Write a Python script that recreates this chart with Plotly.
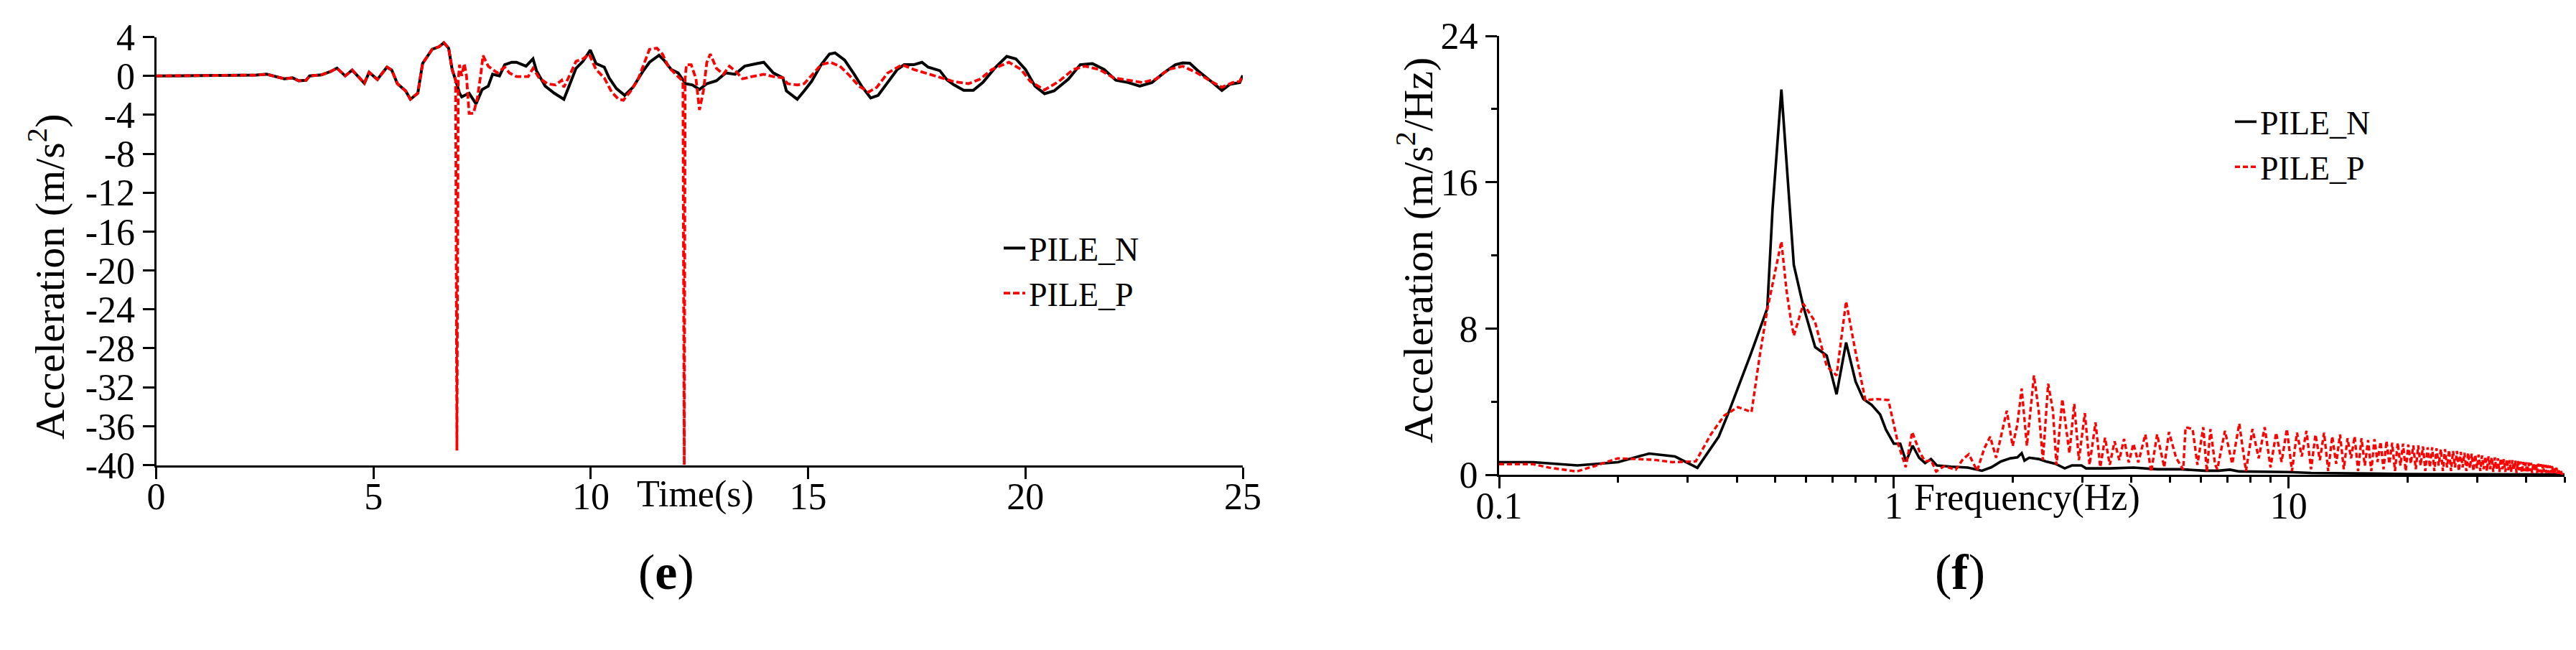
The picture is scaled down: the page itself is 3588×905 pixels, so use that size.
import math
import plotly.graph_objects as go

# ---------------- panel (e): acceleration time history ----------------
time_n = [0, 0.5, 1.0, 1.5, 2.0, 2.3, 2.54, 2.7, 2.95, 3.14, 3.28, 3.45, 3.53, 3.8, 4.02, 4.16,
          4.35, 4.51, 4.79, 4.9, 5.09, 5.31, 5.42, 5.55, 5.74, 5.85, 6.02, 6.13, 6.35, 6.51, 6.62,
          6.73, 6.81, 6.89, 6.98, 7.03, 7.2, 7.36, 7.5, 7.64, 7.74, 7.9, 8.02, 8.18, 8.29, 8.51,
          8.67, 8.75, 8.95, 9.16, 9.38, 9.49, 9.66, 9.82, 9.99, 10.12, 10.31, 10.42, 10.59, 10.78,
          10.97, 11.19, 11.35, 11.57, 11.68, 11.85, 12.01, 12.18, 12.34, 12.5, 12.67, 12.89, 13.1,
          13.32, 13.54, 13.82, 13.98, 14.2, 14.42, 14.5, 14.75, 14.91, 15.08, 15.3, 15.49, 15.62,
          15.84, 16.06, 16.23, 16.44, 16.61, 16.83, 17.05, 17.21, 17.43, 17.62, 17.76, 18.03, 18.2,
          18.36, 18.58, 18.8, 19.02, 19.29, 19.57, 19.78, 20.0, 20.22, 20.44, 20.66, 20.99, 21.26,
          21.54, 21.81, 22.08, 22.36, 22.63, 22.91, 23.18, 23.45, 23.62, 23.78, 24.0, 24.27, 24.52,
          24.71, 24.93, 25.0]
acc_n = [0, 0.02, 0.05, 0.03, 0.06, 0.08, 0.17, 0.0, -0.3, -0.2, -0.5, -0.45, 0.0, 0.1, 0.46, 0.8,
         0.0, 0.6, -0.75, 0.37, -0.37, 0.9, 0.6, -0.8, -1.54, -2.4, -1.78, 1.27, 2.73, 3.0, 3.41,
         2.85, 0.66, -0.44, -1.78, -2.15, -1.78, -2.88, -1.4, -1.05, 0.17, 0.0, 1.15, 1.4, 1.4, 1.0,
         1.75, 0.54, -1.05, -1.78, -2.4, -1.17, 0.78, 1.5, 2.66, 1.27, 0.9, -0.2, -1.3, -2.0,
         -1.17, 0.41, 1.4, 2.12, 1.63, 0.66, 0.3, -0.8, -0.93, -1.4, -0.8, -0.5, 0.3,
         0.17, 1.0, 1.27, 1.4, 0.3, -0.2, -1.54, -2.4, -1.54, -0.56, 1.15, 2.24, 2.37,
         1.63, 0.17, -1.05, -2.27, -2.0, -0.68, 0.66, 1.15, 1.15, 1.4, 0.9, 0.54, -0.44,
         -0.93, -1.49, -1.49, -0.68, 0.78, 2.0, 1.75, 0.66, -1.05, -1.83, -1.54, -0.32, 1.15,
         1.27, 0.66, -0.44, -0.68, -1.05, -0.68, 0.3, 1.15, 1.34, 1.3, 0.41, -0.56, -1.49,
         -0.85, -0.68, 0.05]

time_p = [0, 0.5, 1.0, 1.5, 2.0, 2.3, 2.54, 2.7, 2.95, 3.14, 3.28, 3.45, 3.53, 3.8, 4.02, 4.16,
          4.35, 4.51, 4.79, 4.9, 5.09, 5.31, 5.42, 5.55, 5.74, 5.85, 6.02, 6.13, 6.35, 6.51, 6.62,
          6.73, 6.81, 6.89, 6.92, 6.95, 6.98, 7.03, 7.09, 7.14, 7.2, 7.3, 7.39, 7.47, 7.52, 7.64,
          7.74, 7.85, 8.02, 8.13, 8.29, 8.56, 8.67, 8.81, 9.0, 9.19, 9.33, 9.38, 9.55, 9.66, 9.82,
          9.96, 10.12, 10.31, 10.48, 10.64, 10.75, 10.92, 11.08, 11.22, 11.35, 11.52, 11.65, 11.79,
          12.01, 12.12, 12.15, 12.17, 12.2, 12.31, 12.42, 12.5, 12.59, 12.67, 12.75, 12.89, 13.05,
          13.19, 13.35, 13.49, 13.71, 13.98, 14.2, 14.42, 14.53, 14.75, 14.91, 15.08, 15.3, 15.51,
          15.73, 15.95, 16.17, 16.39, 16.58, 16.83, 17.16, 17.43, 17.7, 18.03, 18.36, 18.69, 18.96,
          19.23, 19.62, 19.9, 20.11, 20.44, 20.77, 21.1, 21.37, 21.7, 22.03, 22.36, 22.69, 23.01,
          23.29, 23.62, 23.95, 24.27, 24.52, 24.77, 24.93, 25.0]
acc_p = [0, 0.02, 0.05, 0.03, 0.06, 0.08, 0.17, 0.0, -0.3, -0.2, -0.5, -0.45, 0.0, 0.1, 0.46, 0.8,
         0.0, 0.6, -0.75, 0.37, -0.37, 0.9, 0.6, -0.8, -1.54, -2.4, -1.78, 1.27, 2.73, 3.0, 3.41,
         2.85, 0.66, -0.44, -38.5, -0.5, 1.15, 0.0, 1.27, 0.0, -3.85, -3.85, -2.3, 0.17, 2.1, 1.0,
         0.66, 0.3, 0.9, 0.3, -0.07, -0.07, 0.78, -0.2, -0.8, -0.93, -0.44, -1.17, 0.41, 1.5, 1.75,
         2.24, 0.66, -0.2, -1.66, -2.4, -2.5, -1.54, -0.44, 1.15, 2.73, 2.85, 2.24, 0.9,
         -0.07, -0.56, -40.0, -0.3, 1.15, 1.15, -0.3, -3.5, -1.54, 1.4, 2.24, 0.78, 0.17,
         1.0, 0.41, -0.3, -0.07, 0.17, -0.07, -0.2, -0.8, -0.93, -0.8, 0.05, 1.15, 1.4,
         1.0, 0.05, -1.05, -1.66, -1.17, 0.3, 1.15, 0.66, 0.3, -0.2, -0.6, -0.8, -0.32,
         0.66, 1.4, 0.66, -0.56, -1.44, -0.56, 0.66, 1.0, 0.66, -0.2, -0.44, -0.68, -0.32,
         0.66, 1.0, 0.3, -0.56, -1.17, -0.68, -0.56, 0.05]

# ---------------- panel (f): Fourier amplitude spectra ----------------
freq_n = [0.1, 0.122, 0.158, 0.2, 0.24, 0.279, 0.318, 0.36, 0.381, 0.436, 0.478, 0.493, 0.519,
          0.546, 0.558, 0.59, 0.632, 0.676, 0.716, 0.757, 0.8, 0.837, 0.879, 0.923, 0.955, 1.0,
          1.038, 1.074, 1.116, 1.159, 1.2, 1.242, 1.285, 1.397, 1.539, 1.672, 1.767, 1.868, 1.973,
          2.056, 2.108, 2.143, 2.203, 2.328, 2.428, 2.565, 2.71, 2.825, 2.986, 3.069, 3.524, 4.047,
          4.647, 5.337, 6.128, 6.65, 7.1, 7.5, 10, 11.4, 15, 20, 30, 50]
fas_n = [0.69, 0.69, 0.51, 0.69, 1.16, 1.0, 0.38, 2.08, 3.37, 6.71, 9.1, 14.56, 21.07,
         14.56, 11.47, 9.2, 6.98, 6.52, 4.4, 7.23, 5.1, 4.14, 3.82, 3.3, 2.47, 1.7,
         1.7, 0.73, 1.59, 0.93, 0.64, 0.86, 0.51, 0.44, 0.39, 0.22, 0.41, 0.73, 0.9,
         0.95, 1.18, 0.77, 0.93, 0.86, 0.73, 0.6, 0.35, 0.51, 0.51, 0.35, 0.35, 0.39,
         0.3, 0.3, 0.22, 0.22, 0.28, 0.18, 0.15, 0.1, 0.06, 0.04, 0.03, 0.02]

freq_p_low = [0.1, 0.122, 0.134, 0.157, 0.175, 0.2, 0.246, 0.275, 0.315, 0.344,
              0.372, 0.403, 0.436, 0.457, 0.478, 0.505, 0.519, 0.534, 0.547, 0.558,
              0.59, 0.631, 0.676, 0.716, 0.757, 0.8, 0.847, 0.906, 0.969, 1.025,
              1.072, 1.113, 1.166, 1.2, 1.242, 1.28, 1.34, 1.436, 1.497, 1.549,
              1.626, 1.695, 1.754, 1.816, 1.893, 1.933, 2.0, 2.055, 2.108, 2.173,
              2.265, 2.328, 2.386, 2.46, 2.53, 2.582, 2.672, 2.727, 2.785, 2.864,
              2.943, 3.047, 3.132, 3.243, 3.334, 3.428, 3.524, 3.624, 3.725, 3.83,
              3.937, 4.047, 4.161, 4.337, 4.487, 4.645, 4.842, 4.977, 5.188, 5.408,
              5.483, 5.715, 5.875, 6.08, 6.208, 6.34, 6.516]
fas_p_low = [0.58, 0.58, 0.39, 0.18, 0.48, 0.9, 0.82, 0.69, 0.73, 2.21,
             3.24, 3.7, 3.43, 6.45, 9.03, 11.47, 12.76, 10.19, 8.64, 7.6,
             9.35, 8.39, 5.94, 5.43, 9.48, 6.71, 4.08, 4.14, 4.08, 1.7,
             0.41, 2.34, 1.18, 0.73, 0.8, 0.18, 0.47, 0.28, 0.86, 1.12,
             0.22, 1.44, 2.08, 0.93, 2.73, 3.5, 1.57, 2.74, 4.72, 1.58,
             5.43, 3.5, 0.8, 4.98, 3.5, 0.54, 4.14, 2.6, 1.18, 3.88,
             0.8, 3.37, 0.54, 2.86, 0.41, 2.02, 0.54, 1.83, 0.8, 1.96,
             0.67, 1.7, 0.67, 2.21, 0.15, 2.21, 0.41, 2.34, 0.93, 0.28,
             2.6, 2.5, 0.54, 2.6, 0.15, 2.5, 0.54]

# dense high-frequency part of PILE_P, sampled every 0.3 Hz from 6.6 Hz
tail_f0 = 6.6
tail_df = 0.3
fas_p_tail = [0.3, 2.4, 0.6, 2.8, 0.2, 2.5, 0.9, 2.6, 0.4, 2.3,
              0.7, 2.5, 0.2, 2.3, 1.0, 2.4, 0.3, 2.2, 0.8, 2.3,
              0.2, 2.1, 0.6, 2.2, 0.3, 2.0, 0.9, 2.1, 0.2, 2.0,
              0.5, 1.9, 0.2, 1.95, 0.7, 1.8, 0.3, 1.85, 0.6, 1.75,
              0.2, 1.75, 0.5, 1.7, 0.2, 1.65, 0.6, 1.6, 0.3, 1.6,
              0.5, 1.55, 0.2, 1.5, 0.4, 1.5, 0.2, 1.45, 0.5, 1.4,
              0.2, 1.4, 0.4, 1.35, 0.2, 1.3, 0.4, 1.3, 0.2, 1.25,
              0.4, 1.2, 0.2, 1.2, 0.35, 1.15, 0.2, 1.1, 0.35, 1.1,
              0.2, 1.05, 0.3, 1.0, 0.2, 1.0, 0.3, 0.95, 0.15, 0.95,
              0.3, 0.9, 0.15, 0.9, 0.3, 0.85, 0.15, 0.85, 0.25, 0.8,
              0.15, 0.8, 0.25, 0.77, 0.1, 0.75, 0.25, 0.72, 0.1, 0.7,
              0.2, 0.68, 0.1, 0.67, 0.2, 0.65, 0.1, 0.64, 0.2, 0.62,
              0.1, 0.6, 0.15, 0.58, 0.1, 0.56, 0.15, 0.54, 0.1, 0.52,
              0.1, 0.5, 0.1, 0.47, 0.08, 0.43, 0.08, 0.38, 0.05, 0.32,
              0.05, 0.25, 0.03, 0.15, 0.02]

acc_ticks = [-40, -36, -32, -28, -24, -20, -16, -12, -8, -4, 0, 4]
acc_ticktext = ["-40", "-36", "-32", "-28", "-24", "-20", "-16", "-12", "-8", "-4", "0", "4"]
time_ticks = [0, 5, 10, 15, 20, 25]

freq_p = freq_p_low + [round(tail_f0 + tail_df * i, 2) for i in range(len(fas_p_tail))]
fas_p = fas_p_low + fas_p_tail

W, H = 3588, 905
FONT = "Liberation Serif"

fig = go.Figure()
fig.add_trace(go.Scatter(x=time_n, y=acc_n, name="PILE_N", mode="lines",
                         line=dict(color="black", width=4), xaxis="x", yaxis="y", legend="legend"))
fig.add_trace(go.Scatter(x=time_p, y=acc_p, name="PILE_P", mode="lines",
                         line=dict(color="#ff0000", width=3.8, dash="9px,4px"),
                         xaxis="x", yaxis="y", legend="legend"))
fig.add_trace(go.Scatter(x=freq_n, y=fas_n, name="PILE_N", mode="lines",
                         line=dict(color="black", width=3.6), xaxis="x2", yaxis="y2", legend="legend2"))
fig.add_trace(go.Scatter(x=freq_p, y=fas_p, name="PILE_P", mode="lines",
                         line=dict(color="#ff0000", width=3.4, dash="7px,4px"),
                         xaxis="x2", yaxis="y2", legend="legend2"))

ax = dict(showline=True, linecolor="black", linewidth=3, ticks="outside", ticklen=16,
          tickwidth=3, tickcolor="black", showgrid=False, zeroline=False, automargin=False,
          tickfont=dict(family=FONT, size=52, color="black"))

fig.update_layout(
    template="none",
    width=W, height=H, margin=dict(l=0, r=0, t=0, b=0),
    paper_bgcolor="white", plot_bgcolor="white", showlegend=True,
    xaxis=dict(domain=[209.5 / W, 1723 / W], range=[0, 25], tickvals=time_ticks, anchor="y",
               ticklabelstandoff=-20, **ax),
    yaxis=dict(domain=[1 - 639.5 / H, 1 - 43.5 / H], range=[-40, 4], tickvals=acc_ticks,
               ticktext=acc_ticktext, anchor="x", **ax),
    xaxis2=dict(domain=[2080 / W, 3564 / W], type="log", range=[-1, math.log10(50)],
                dtick=1, anchor="y2", ticklabelstandoff=-20,
                minor=dict(ticks="outside", ticklen=8, tickwidth=3, tickcolor="black", dtick="D1"),
                **ax),
    yaxis2=dict(domain=[1 - 653 / H, 1 - 42 / H], range=[0, 24], tick0=0, dtick=8, anchor="x2",
                minor=dict(ticks="outside", ticklen=8, tickwidth=3, tickcolor="black", dtick=4),
                **ax),
    legend=dict(x=1385 / W, y=1 - 301 / H, xanchor="left", yanchor="top",
                font=dict(family=FONT, size=46, color="black"), bgcolor="rgba(0,0,0,0)"),
    legend2=dict(x=3100 / W, y=1 - 125 / H, xanchor="left", yanchor="top",
                 font=dict(family=FONT, size=46, color="black"), bgcolor="rgba(0,0,0,0)"),
)

labels = [
    dict(text="Acceleration (m/s<sup>2</sup>)", x=57 / W, y=1 - 377 / H, textangle=-90, size=58),
    dict(text="Acceleration (m/s<sup>2</sup>/Hz)", x=1964 / W, y=1 - 341 / H, textangle=-90, size=58),
    dict(text="Time(s)", x=960 / W, y=1 - 680 / H, textangle=0, size=52),
    dict(text="Frequency(Hz)", x=2815 / W, y=1 - 685 / H, textangle=0, size=52),
    dict(text="(<b>e</b>)", x=920 / W, y=1 - 788 / H, textangle=0, size=70),
    dict(text="(<b>f</b>)", x=2722 / W, y=1 - 788 / H, textangle=0, size=70),
]
for lb in labels:
    fig.add_annotation(text=lb["text"], x=lb["x"], y=lb["y"], xref="paper", yref="paper",
                       xanchor="center", yanchor="middle", showarrow=False, textangle=lb["textangle"],
                       font=dict(family=FONT, size=lb["size"], color="black"))

fig.write_html("out.html")
